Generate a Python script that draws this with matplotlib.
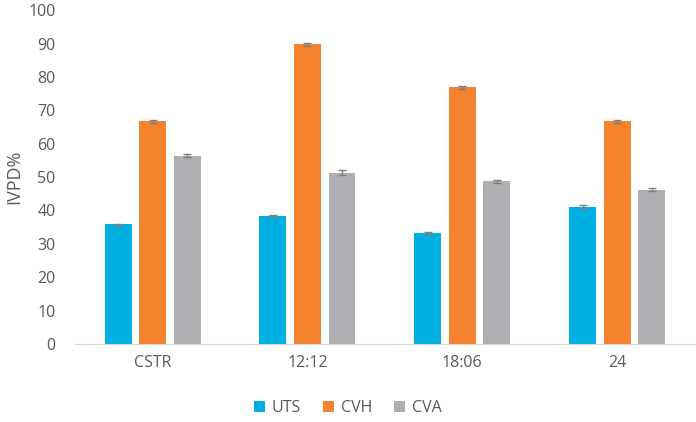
import numpy as np
import matplotlib.pyplot as plt

plt.rcParams['font.family'] = ['Open Sans', 'DejaVu Sans']

groups = ['CSTR', '12:12', '18:06', '24']
series = ['UTS', 'CVH', 'CVA']
uts = [35.8, 38.3, 33.3, 41.0]
cvh = [66.7, 89.8, 76.9, 66.7]
cva = [56.4, 51.3, 48.7, 46.2]
uts_err = [0.2, 0.2, 0.3, 0.7]
cvh_err = [0.4, 0.4, 0.5, 0.4]
cva_err = [0.4, 0.8, 0.4, 0.4]
colors = ['#00B0E0', '#F5822F', '#AEAFB2']

fig = plt.figure(figsize=(6.96, 4.22), dpi=100)
ax = fig.add_axes([0.108, 0.185, 0.89, 0.791])

x = np.arange(len(groups))
w = 0.174
step = 0.223
for i, (vals, errs) in enumerate(zip([uts, cvh, cva], [uts_err, cvh_err, cva_err])):
    ax.bar(x + (i - 1) * step, vals, w, color=colors[i], label=series[i],
           yerr=errs, capsize=3,
           error_kw=dict(ecolor='#7f7f7f', elinewidth=1, capthick=1))

ax.set_xlim(-0.5, 3.5)
ax.set_ylim(0, 100)
ax.set_yticks(range(0, 101, 10))
ax.set_xticks(x)
ax.set_xticklabels(groups)
ax.tick_params(axis='both', colors='#595959', labelsize=11.5, length=0)
ax.tick_params(axis='y', pad=14)
ax.tick_params(axis='x', pad=8)
for s in ['top', 'right', 'left']:
    ax.spines[s].set_visible(False)
ax.spines['bottom'].set_color('#d9d9d9')
ax.set_ylabel('IVPD%', color='#595959', fontsize=13, labelpad=4)

ax.legend(loc='upper center', bbox_to_anchor=(0.44, -0.125), ncol=3, frameon=False,
          fontsize=11.5, labelcolor='#595959', handlelength=0.7, handleheight=0.7,
          columnspacing=1.4, handletextpad=0.4)

fig.savefig('out.png', dpi=100)
